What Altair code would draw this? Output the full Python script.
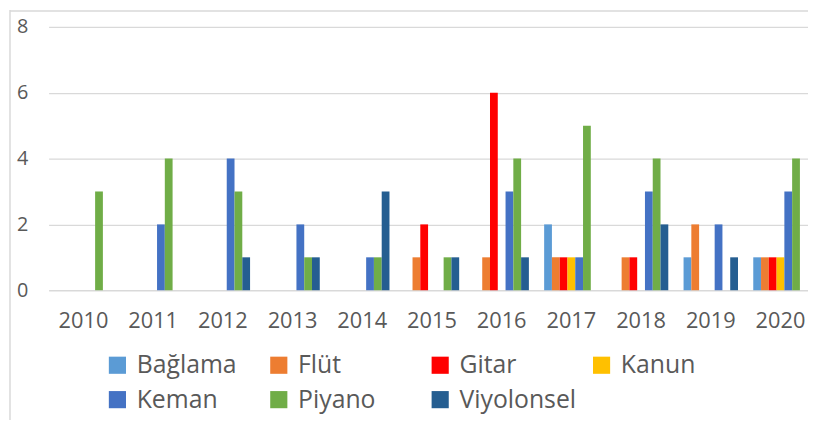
import altair as alt
import pandas as pd

years = ["2010", "2011", "2012", "2013", "2014", "2015", "2016", "2017", "2018", "2019", "2020"]
instruments = ["Bağlama", "Flüt", "Gitar", "Kanun", "Keman", "Piyano", "Viyolonsel"]
colors = ["#5B9BD5", "#ED7D31", "#FF0000", "#FFC000", "#4472C4", "#70AD47", "#255E91"]

baglama = [0, 0, 0, 0, 0, 0, 0, 2, 0, 1, 1]
flut = [0, 0, 0, 0, 0, 1, 1, 1, 1, 2, 1]
gitar = [0, 0, 0, 0, 0, 2, 6, 1, 1, 0, 1]
kanun = [0, 0, 0, 0, 0, 0, 0, 1, 0, 0, 1]
keman = [0, 2, 4, 2, 1, 0, 3, 1, 3, 2, 3]
piyano = [3, 4, 3, 1, 1, 1, 4, 5, 4, 0, 4]
viyolonsel = [0, 0, 1, 1, 3, 1, 1, 0, 2, 1, 0]

y_ticks = [0, 2, 4, 6, 8]

series = [baglama, flut, gitar, kanun, keman, piyano, viyolonsel]
rows = []
for i, yr in enumerate(years):
    for inst, vals in zip(instruments, series):
        rows.append({"Yıl": yr, "Enstrüman": inst, "Sayı": vals[i]})
df = pd.DataFrame(rows)

FONT = "Open Sans"
GRAY = "#595959"

bars = alt.Chart(df).mark_bar().encode(
    x=alt.X(
        "Yıl:N",
        sort=years,
        scale=alt.Scale(range=[0, 774.4], paddingInner=0.219, paddingOuter=0.1095),
        axis=alt.Axis(
            title=None, labelAngle=0, domain=False, ticks=False, tickSize=0,
            labelPadding=21, labelFontSize=22, labelColor=GRAY, labelFont=FONT,
        ),
    ),
    xOffset=alt.XOffset(
        "Enstrüman:N", sort=instruments,
        scale=alt.Scale(domain=instruments, paddingInner=0, paddingOuter=0),
    ),
    y=alt.Y(
        "Sayı:Q",
        scale=alt.Scale(domain=[0, 8], nice=False),
        axis=alt.Axis(
            values=y_ticks, title=None, domain=False, ticks=False, tickSize=0,
            labelPadding=21, labelFontSize=20, labelColor=GRAY, labelFont=FONT,
            gridColor="#d9d9d9", gridWidth=1.3,
        ),
    ),
    color=alt.Color(
        "Enstrüman:N",
        sort=instruments,
        scale=alt.Scale(domain=instruments, range=colors),
        legend=alt.Legend(
            orient="none", legendX=57, legendY=329, direction="horizontal",
            columns=4, title=None, symbolType="square", symbolSize=300,
            symbolStrokeWidth=0, labelFontSize=25, labelFont=FONT, labelColor=GRAY,
            labelOffset=7, columnPadding=13, rowPadding=9, gridAlign="all",
            padding=0, labelLimit=0,
        ),
    ),
)

border_df = pd.DataFrame({"k": [0]})
left_border = alt.Chart(border_df).mark_rule(color="#d9d9d9", strokeWidth=1.5).encode(
    x=alt.value(-39), y=alt.value(-17), y2=alt.value(400)
)
top_border = alt.Chart(border_df).mark_rule(color="#d9d9d9", strokeWidth=1.5).encode(
    x=alt.value(-39), x2=alt.value(767), y=alt.value(-16)
)

chart = alt.layer(left_border, top_border, bars).properties(
    width=767,
    height=266,
    autosize=alt.AutoSizeParams(type="none"),
    padding={"left": 41, "top": 17, "right": 0, "bottom": 129},
    background="white",
).configure_view(stroke=None)

chart.save("out.html", embed_options={"renderer": "svg", "actions": False})
